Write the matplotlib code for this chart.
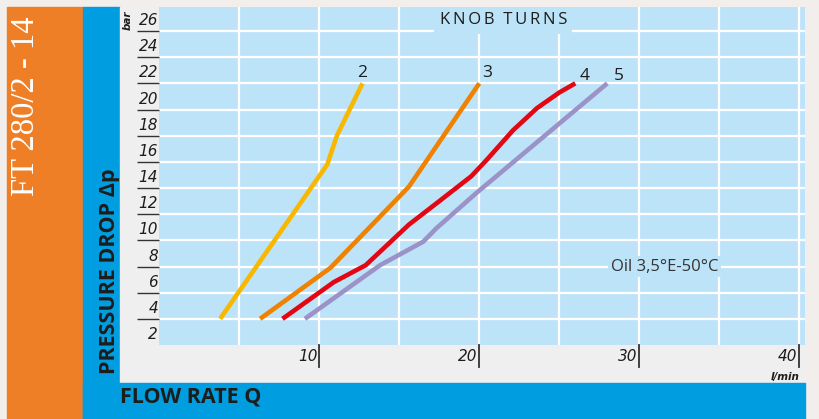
import matplotlib
matplotlib.use("Agg")
import matplotlib.pyplot as plt
from matplotlib.patches import Rectangle

# flow rate (l/min) and pressure drop (bar) for each number of knob turns
turns = ["2", "3", "4", "5"]
flow_2 = [3.8, 10.5, 11.1, 12.7]
dp_2 = [4.0, 15.8, 18.0, 22.0]
flow_3 = [6.3, 10.7, 15.6, 20.0]
dp_3 = [4.0, 7.9, 14.1, 22.0]
flow_4 = [7.7, 10.9, 12.9, 15.6, 17.4, 19.5, 20.5, 22.1, 23.6, 25.0, 26.0]
dp_4 = [4.0, 6.8, 8.1, 11.2, 12.9, 14.9, 16.2, 18.4, 20.1, 21.3, 22.0]
flow_5 = [9.1, 13.8, 16.5, 17.3, 19.8, 28.0]
dp_5 = [4.0, 8.1, 9.9, 10.9, 13.6, 22.0]

y_ticks = [4, 6, 8, 10, 12, 14, 16, 18, 20, 22, 24, 26]
y_labels = [2, 4, 6, 8, 10, 12, 14, 16, 18, 20, 22, 24, 26]
x_ticks = [10, 20, 30, 40]

colors = ["#f8b800", "#ef8200", "#e30613", "#9b92c8"]
text_col = "#1d1d1b"

fig = plt.figure(figsize=(8.19, 4.19), dpi=100)
fig.patch.set_facecolor("#f2eeec")


def px_rect(x0, y0, x1, y1, color):
    # rectangle given in pixels from the top left corner
    W, H = 819.0, 419.0
    fig.add_artist(Rectangle((x0 / W, 1 - y1 / H), (x1 - x0) / W, (y1 - y0) / H,
                             transform=fig.transFigure, color=color, zorder=-10))


px_rect(7, 7, 83, 419, "#ef7f26")
px_rect(83, 7, 120, 419, "#009de0")
px_rect(120, 7, 805, 383, "#efefef")
px_rect(83, 383, 805, 419, "#009de0")

ax = fig.add_axes([159.3 / 819, (419 - 345) / 419, (805 - 159.3) / 819, (345 - 6.7) / 419])
ax.set_zorder(1)
ax.set_facecolor("#bde3f8")
ax.set_xlim(0, 40.36)
ax.set_ylim(2, 27.86)
for s in ax.spines.values():
    s.set_visible(False)

ax.set_xticks([5, 10, 15, 20, 25, 30, 35, 40])
ax.set_yticks(y_ticks)
ax.grid(True, color="white", lw=1.6)
ax.set_axisbelow(True)
ax.tick_params(axis="y", direction="out", length=15.8, width=1.0, color="#333333", labelleft=False)
ax.tick_params(axis="x", length=0, labelbottom=False)

# DejaVu Sans ships an oblique face, the other families here have no italic
tick_font = dict(fontsize=11, style="oblique", color=text_col, family="DejaVu Sans")

# x ticks only at 10, 20, 30, 40
for v in x_ticks:
    ax.plot([v, v], [0, -0.065], transform=ax.get_xaxis_transform(), color="#333333", lw=1.3, clip_on=False)
    ax.text(v - 0.12, -0.035, str(v), transform=ax.get_xaxis_transform(), ha="right", va="center", **tick_font)

for v in y_labels:
    ax.text(-0.002, v + 0.8, str(v), transform=ax.get_yaxis_transform(), ha="right", va="center", **tick_font)

ax.text(40, -0.095, "l/min", transform=ax.get_xaxis_transform(), ha="right", va="center",
        fontsize=7.5, style="oblique", weight="bold", color=text_col, family="DejaVu Sans")
fig.text(128 / 819, 1 - 20 / 419, "bar", rotation=90, ha="center", va="center",
         fontsize=7.5, style="oblique", weight="bold", color=text_col, family="DejaVu Sans")

series = [(flow_2, dp_2), (flow_3, dp_3), (flow_4, dp_4), (flow_5, dp_5)]
label_pos = [(12.7, 22.8), (20.5, 22.8), (26.6, 22.6), (28.7, 22.6)]
for (fx, fy), c, t, (lx, ly) in zip(series, colors, turns, label_pos):
    ax.plot(fx, fy, color=c, lw=3.3, solid_capstyle="butt", solid_joinstyle="round", zorder=3)
    ax.text(lx, ly, t, ha="center", va="center", fontsize=12.5, color=text_col, family="Open Sans")

ax.text(21.5, 26.82, "K\u2009N\u2009O\u2009B  T\u2009U\u2009R\u2009N\u2009S", ha="center", va="center",
        fontsize=12, color=text_col, family="Open Sans",
        bbox=dict(facecolor="#bde3f8", edgecolor="none", pad=4))
ax.text(31.6, 8.0, "Oil 3,5°E-50°C", ha="center", va="center", fontsize=12, color="#333333",
        family="Open Sans", bbox=dict(facecolor="#bde3f8", edgecolor="none", pad=2))

# side captions
fig.text(26 / 819, 1 - 106 / 419, "FT 280/2 - 14", rotation=90, ha="center", va="center",
         fontsize=23.5, color="white", family="Liberation Serif")
fig.text(110 / 819, 1 - 271 / 419, "PRESSURE DROP \u0394p", rotation=90, ha="center", va="center",
         fontsize=15.5, weight="bold", color=text_col, family="Open Sans")
fig.text(120 / 819, 1 - 397 / 419, "FLOW RATE Q", ha="left", va="center",
         fontsize=15.5, weight="bold", color=text_col, family="Open Sans")

fig.savefig("out.png", dpi=100, facecolor=fig.get_facecolor())
